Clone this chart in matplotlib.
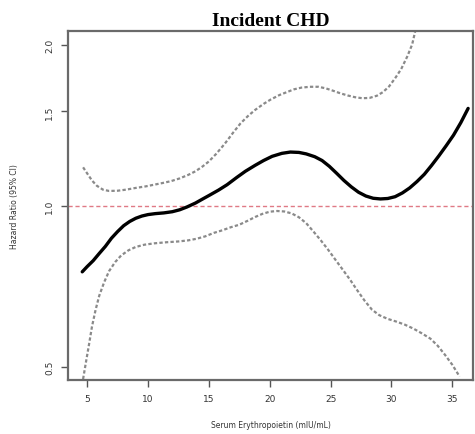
import matplotlib
matplotlib.use("Agg")
import matplotlib.pyplot as plt
from matplotlib.ticker import FixedLocator, NullLocator

# Data
x_hr = [4.6, 5.0, 5.5, 6.0, 6.5, 7.0, 7.5, 8.0, 8.5, 9.0, 9.5, 10.0, 10.6, 11.3, 12.0,
        12.6, 13.2, 13.9, 14.5, 15.0, 15.8, 16.5, 17.3, 18.0, 18.8, 19.5, 20.2, 21.0,
        21.7, 22.4, 23.0, 23.7, 24.3, 24.9, 25.5, 26.1, 26.7, 27.3, 27.9, 28.5, 29.1,
        29.7, 30.3, 30.9, 31.5, 32.1, 32.7, 33.3, 33.9, 34.5, 35.1, 35.7, 36.3]
hr = [0.753, 0.77, 0.79, 0.815, 0.84, 0.87, 0.895, 0.918, 0.935, 0.948, 0.957, 0.963,
      0.967, 0.97, 0.975, 0.983, 0.995, 1.012, 1.03, 1.045, 1.07, 1.095, 1.13, 1.16,
      1.19, 1.215, 1.237, 1.253, 1.26, 1.258, 1.25, 1.235, 1.215, 1.185, 1.15, 1.115,
      1.085, 1.06, 1.043, 1.033, 1.03, 1.032, 1.04, 1.057, 1.08, 1.11, 1.145, 1.19,
      1.24, 1.295, 1.355, 1.43, 1.52]

x_upper = [4.67, 5.0, 5.4, 5.8, 6.3, 6.8, 7.5, 8.2, 9.0, 9.8, 10.5, 11.2, 11.9, 12.6,
           13.3, 13.9, 14.5, 15.0, 15.6, 16.3, 17.0, 17.6, 18.2, 18.8, 19.5, 20.1, 20.8,
           21.4, 22.0, 22.6, 23.3, 24.0, 24.6, 25.2, 25.8, 26.4, 27.0, 27.6, 28.2, 28.8,
           29.3, 29.8, 30.3, 30.8, 31.3, 31.7, 32.0]
upper = [1.18, 1.15, 1.115, 1.09, 1.072, 1.066, 1.067, 1.072, 1.08, 1.087, 1.095, 1.103,
         1.112, 1.125, 1.142, 1.16, 1.185, 1.21, 1.25, 1.305, 1.37, 1.425, 1.47, 1.51,
         1.55, 1.58, 1.61, 1.63, 1.65, 1.662, 1.668, 1.668, 1.657, 1.64, 1.622, 1.607,
         1.595, 1.588, 1.59, 1.605, 1.63, 1.67, 1.73, 1.80, 1.90, 2.0, 2.14]

x_lower = [4.67, 4.9, 5.15, 5.4, 5.7, 6.0, 6.4, 6.8, 7.3, 7.8, 8.4, 9.0, 9.7, 10.5,
           11.5, 12.5, 13.3, 14.0, 14.7, 15.4, 16.1, 16.8, 17.5, 18.2, 18.8, 19.4, 20.0,
           20.6, 21.2, 21.8, 22.4, 23.0, 23.6, 24.2, 24.8, 25.4, 26.0, 26.6, 27.2, 27.8,
           28.4, 29.0, 29.7, 30.4, 31.1, 31.8, 32.5, 33.2, 33.8, 34.4, 35.0, 35.6]
lower = [0.475, 0.51, 0.55, 0.595, 0.64, 0.68, 0.72, 0.755, 0.785, 0.808, 0.826, 0.838,
         0.846, 0.851, 0.855, 0.858, 0.862, 0.868, 0.877, 0.89, 0.90, 0.912, 0.922,
         0.938, 0.953, 0.966, 0.975, 0.978, 0.976, 0.968, 0.952, 0.928, 0.895, 0.862,
         0.828, 0.793, 0.76, 0.728, 0.695, 0.665, 0.64, 0.625, 0.615, 0.608, 0.60, 0.59,
         0.578, 0.565, 0.548, 0.527, 0.505, 0.48]

x_ticks = [5, 10, 15, 20, 25, 30, 35]
y_ticks = [0.5, 1.0, 1.5, 2.0]
y_ticklabels = ["0.5", "1.0", "1.5", "2.0"]

fig = plt.figure(figsize=(4.75, 4.35), dpi=100)
ax = fig.add_axes([68/475, 1-381/435, (473-68)/475, (381-32)/435])

ax.axhline(1.0, color="#e07a85", lw=1.0, ls=(0, (3, 2)), zorder=1)
ax.plot(x_upper, upper, color="#8a8a8a", lw=1.6, ls=(0, (1.5, 1.0)))
ax.plot(x_lower, lower, color="#8a8a8a", lw=1.6, ls=(0, (1.5, 1.0)))
ax.plot(x_hr, hr, color="black", lw=2.4, solid_capstyle="round")

ax.set_yscale("log")
ax.set_xlim(3.43, 36.7)
ax.set_ylim(0.473, 2.12)
ax.yaxis.set_major_locator(FixedLocator(y_ticks))
ax.yaxis.set_minor_locator(NullLocator())
ax.set_yticklabels(y_ticklabels, rotation=90, va="center")
ax.set_xticks(x_ticks)

for s in ax.spines.values():
    s.set_color("#6a6a6a")
    s.set_linewidth(1.6)

ax.tick_params(axis="both", colors="#555555", labelcolor="#333333",
               labelsize=6.5, length=5, width=1.0, pad=5)

ax.set_xlabel("Serum Erythropoietin (mIU/mL)", fontsize=5.5, color="#333333", labelpad=12)
ax.set_ylabel("Hazard Ratio (95% CI)", fontsize=5.5, color="#333333", labelpad=19)
ax.set_title("Incident CHD", fontsize=14, fontweight="bold", family="Liberation Serif",
             pad=4)

fig.savefig("out.png", dpi=100)
